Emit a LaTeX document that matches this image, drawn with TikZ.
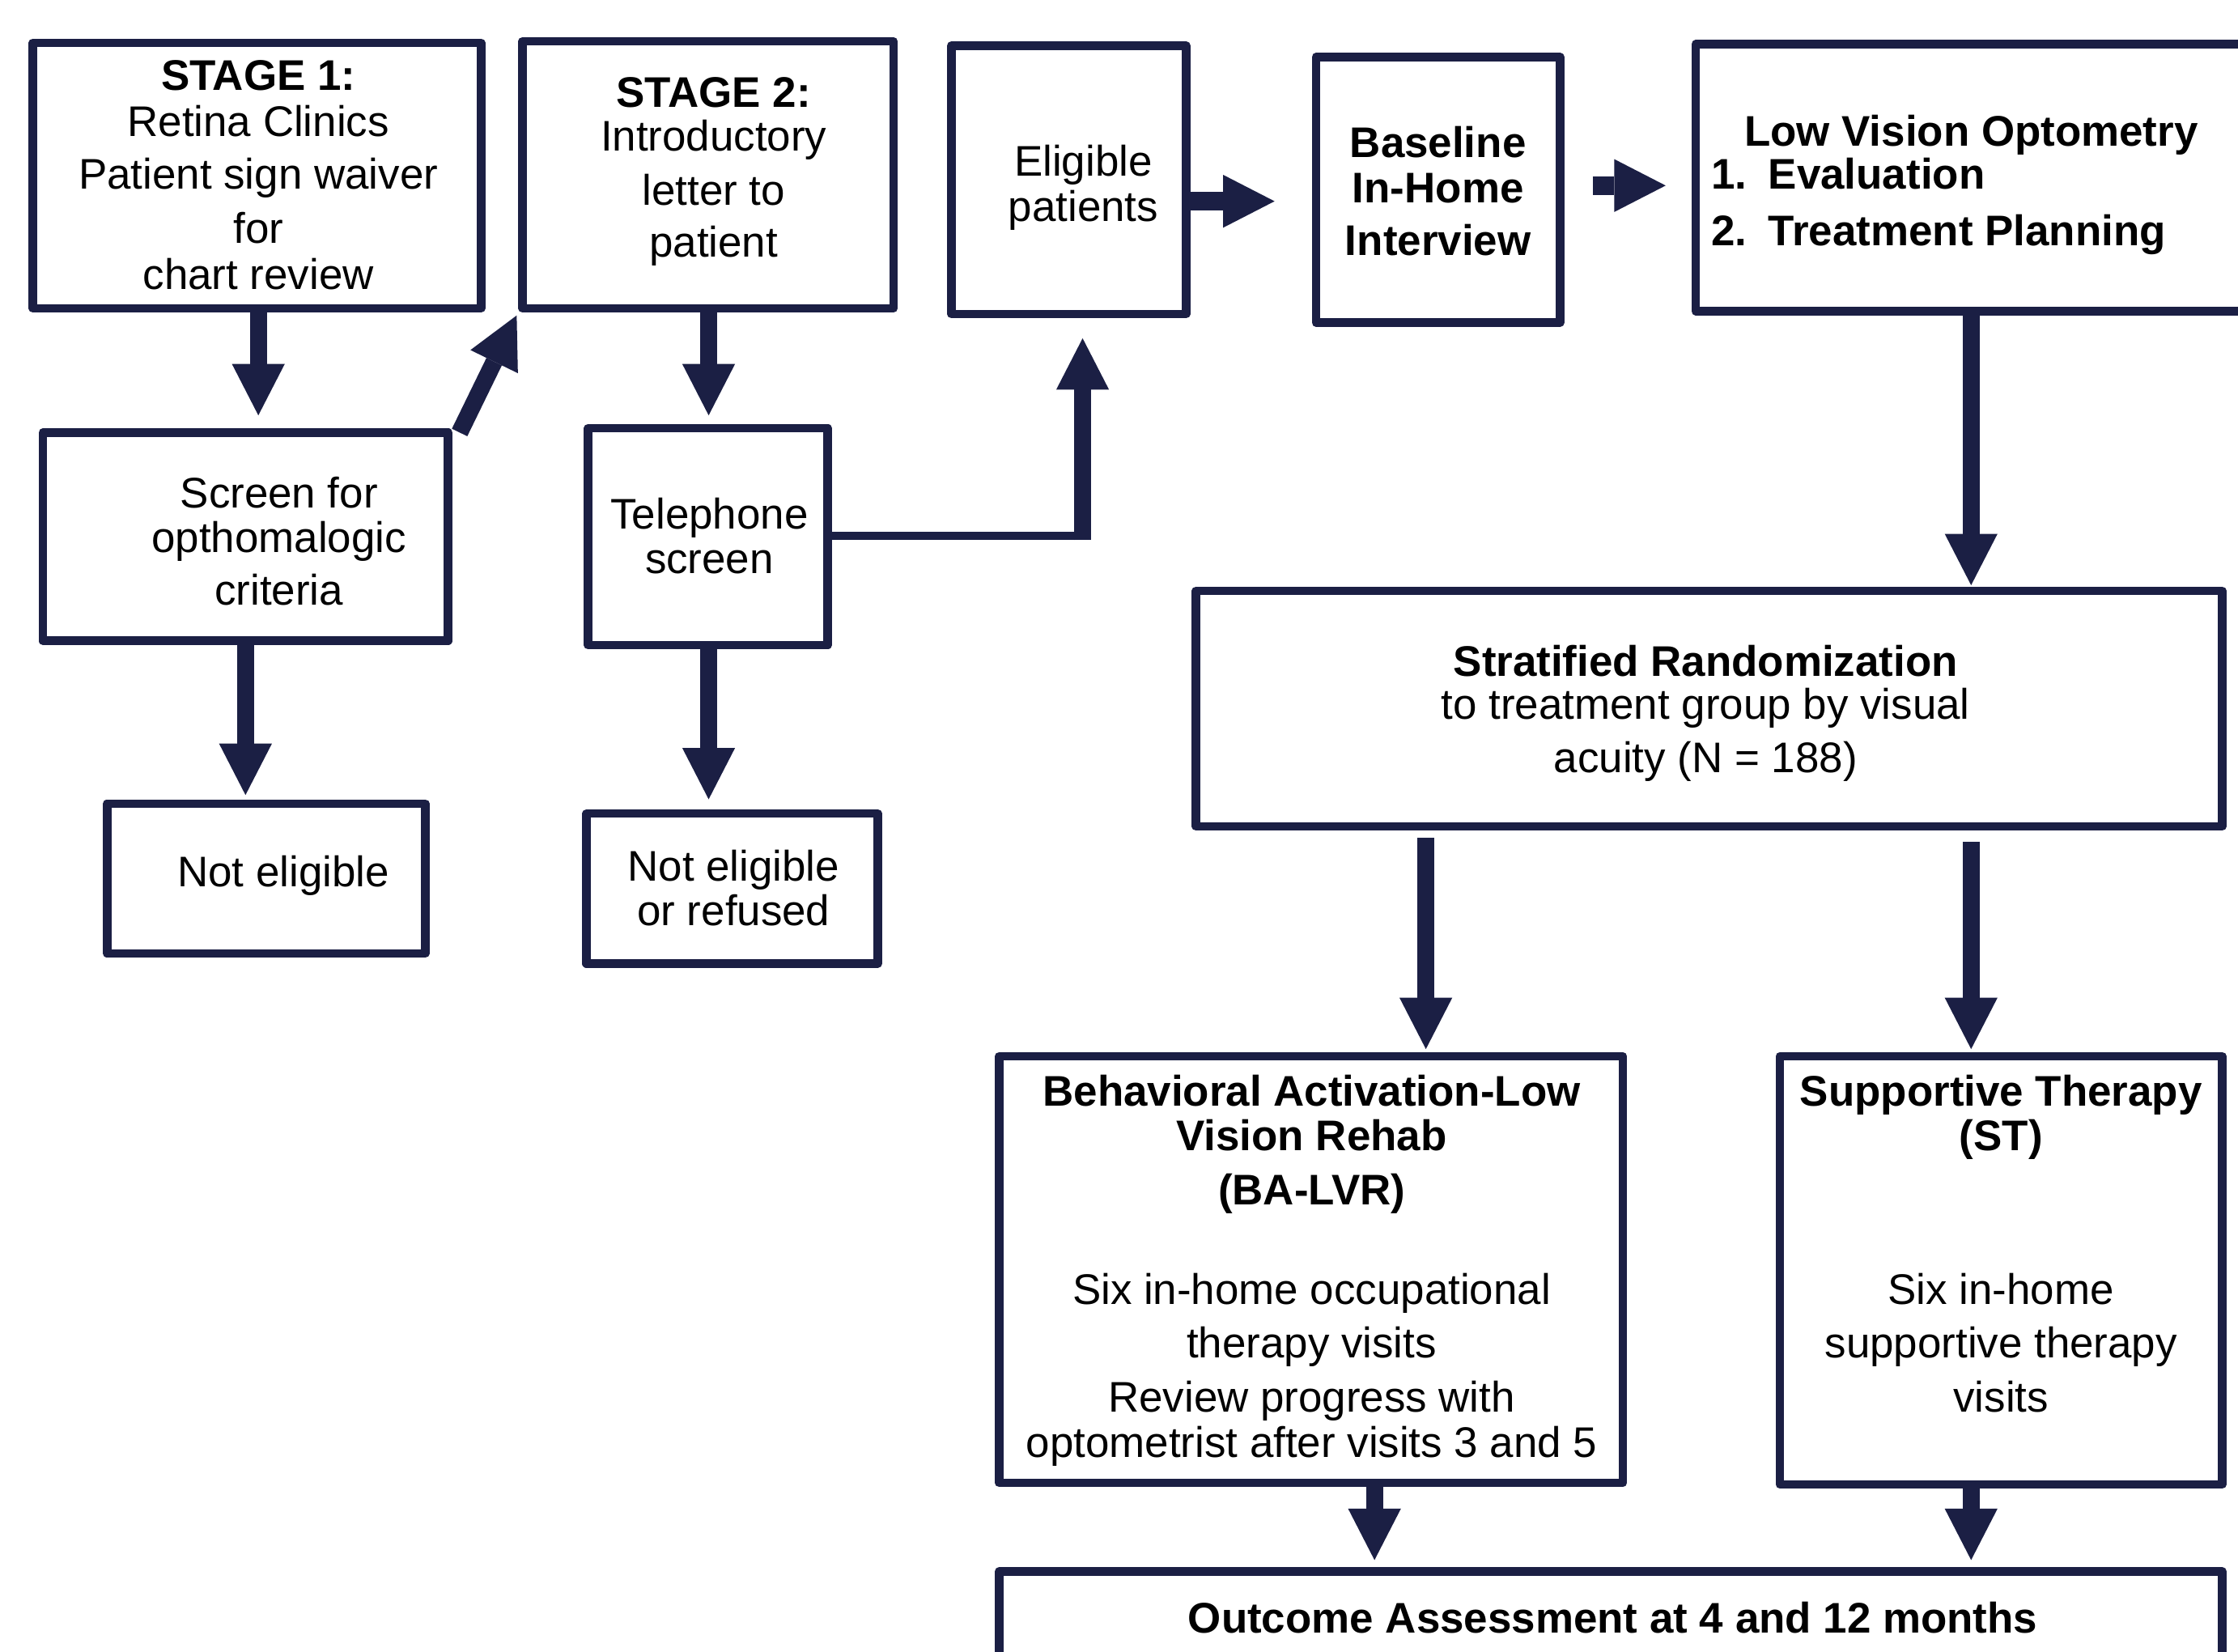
\documentclass[tikz,border=0pt]{standalone}
\usepackage{fontspec}
\setmainfont{Liberation Sans}
\usetikzlibrary{arrows.meta,calc}
\definecolor{navy}{RGB}{27,31,68}
\begin{document}
\begin{tikzpicture}[x=1pt,y=-1pt,
  box/.style={draw=navy,line width=6pt,fill=white,inner sep=0pt,outer sep=0pt,line join=round,rectangle},
  txt/.style={anchor=base,inner sep=0pt,outer sep=0pt,font=\fontsize{30}{36}\selectfont},
  btxt/.style={anchor=base,inner sep=0pt,outer sep=0pt,font=\fontsize{30}{36}\selectfont\bfseries},
  arr/.style={draw=navy,line width=12pt,-{Triangle[width=37pt,length=36pt,line width=0pt]}},
  conn/.style={draw=navy,line width=6pt}]
\useasboundingbox (0,0) rectangle (1568,1157);
\clip (0,0) rectangle (1568,1157);

% ---------- boxes ----------
\node[box,minimum width=314pt,minimum height=186pt] (s1) at (180,123) {};
\node[box,minimum width=260pt,minimum height=187pt] (s2) at (496,122.5) {};
\node[box,minimum width=164.5pt,minimum height=188pt] (elig) at (748.75,126) {};
\node[box,minimum width=171pt,minimum height=186pt] (base) at (1007.5,133) {};
\node[box,minimum width=512pt,minimum height=187pt] (lvo) at (1444,124.5) {};
\node[box,minimum width=284pt,minimum height=146pt] (scr) at (172,376) {};
\node[box,minimum width=168pt,minimum height=152pt] (tel) at (496,376) {};
\node[box,minimum width=223pt,minimum height=105pt] (ne1) at (186.5,615.5) {};
\node[box,minimum width=204pt,minimum height=105pt] (ne2) at (513,622.5) {};
\node[box,minimum width=719pt,minimum height=165pt] (strat) at (1197.5,496.5) {};
\node[box,minimum width=437pt,minimum height=299pt] (ba) at (918.5,889.5) {};
\node[box,minimum width=310pt,minimum height=300pt] (st) at (1402,890) {};
\node[box,minimum width=857pt,minimum height=149pt] (out) at (1128.5,1175.5) {};

% ---------- texts ----------
\node[btxt] (s1a) at (181,63) {STAGE 1:};
\node[txt] (s1b) at (181,95.5) {Retina Clinics};
\node[txt] (s1c) at (181,132.5) {Patient sign waiver};
\node[txt] (s1d) at (181,170.5) {for};
\node[txt] (s1e) at (181,202.5) {chart review};

\node[btxt] (s2a) at (500,75) {STAGE 2:};
\node[txt] (s2b) at (500,106) {Introductory};
\node[txt] (s2c) at (500,144) {letter to};
\node[txt] (s2d) at (500,180) {patient};

\node[txt] (ela) at (759,123.5) {Eligible};
\node[txt] (elb) at (759,155) {patients};

\node[btxt] (bsa) at (1007.5,110.5) {Baseline};
\node[btxt] (bsb) at (1007.5,142) {In-Home};
\node[btxt] (bsc) at (1007.5,179) {Interview};

\node[btxt] (lva) at (1381,102.5) {Low Vision Optometry};
\node[btxt,anchor=base west] (lvb) at (1199,132.5) {\makebox[40pt][l]{1.}Evaluation};
\node[btxt,anchor=base west] (lvc) at (1199,172) {\makebox[40pt][l]{2.}Treatment Planning};

\node[txt] (sca) at (195.5,356) {Screen for};
\node[txt] (scb) at (195.5,387) {opthomalogic};
\node[txt] (scc) at (195.5,424) {criteria};

\node[txt] (tla) at (497,370.5) {Telephone};
\node[txt] (tlb) at (497,401.5) {screen};

\node[txt] (n1a) at (198.5,621.5) {Not eligible};

\node[txt] (n2a) at (514,617) {Not eligible};
\node[txt] (n2b) at (514,648.5) {or refused};

\node[btxt] (sra) at (1195,474) {Stratified Randomization};
\node[txt] (srb) at (1195,504) {to treatment group by visual};
\node[txt] (src) at (1195,541) {acuity (N = 188)};

\node[btxt] (baa) at (919,775) {Behavioral Activation-Low};
\node[btxt] (bab) at (919,806) {Vision Rehab};
\node[btxt] (bac) at (919,844) {(BA-LVR)};
\node[txt] (bad) at (919,914) {Six in-home occupational};
\node[txt] (bae) at (919,951) {therapy visits};
\node[txt] (baf) at (919,989) {Review progress with};
\node[txt] (bag) at (919,1021) {optometrist after visits 3 and 5};

\node[btxt] (sta) at (1402,775) {Supportive Therapy};
\node[btxt] (stb) at (1402,806) {(ST)};
\node[txt] (stc) at (1402,914) {Six in-home};
\node[txt] (std) at (1402,951) {supportive therapy};
\node[txt] (ste) at (1402,989) {visits};

\node[btxt] (oua) at (1130,1144) {Outcome Assessment at 4 and 12 months};

% ---------- connector coordinates ----------
\coordinate (t1) at (181,291);
\coordinate (t2) at (496.5,291);
\coordinate (t4) at (172,557);
\coordinate (t5) at (496.5,560);
\coordinate (bend) at (758.5,375.5);
\coordinate (t6) at (758.5,237);
\coordinate (t7) at (893,141);
\coordinate (f8) at (1116,130);
\coordinate (t8) at (1167,130);
\coordinate (t9) at (1381,410);
\coordinate (f10) at (999,587);
\coordinate (t10) at (999,735);
\coordinate (f11) at (1381,590);
\coordinate (t11) at (1381,735);
\coordinate (t12) at (963,1093);
\coordinate (t13) at (1381,1093);

% ---------- connectors ----------
\draw[arr] (s1.south -| t1) -- (t1);
\draw[arr] (s2.south -| t2) -- (t2);
\draw[arr] ($(scr.north east)+(8,0)$) -- ($(s2.south west)+(-4,5)$);
\draw[arr] (scr.south -| t4) -- (t4);
\draw[arr] (tel.south -| t5) -- (t5);
\draw[conn] (tel.east |- bend) -- ($(bend)+(6,0)$);
\draw[arr] ($(bend)+(0,3)$) -- (t6);
\draw[arr,line width=13pt] (elig.east |- t7) -- (t7);
\draw[arr,line width=13pt] (f8) -- (t8);
\draw[arr] (lvo.south -| t9) -- (t9);
\draw[arr] (f10) -- (t10);
\draw[arr] (f11) -- (t11);
\draw[arr] (ba.south -| t12) -- (t12);
\draw[arr] (st.south -| t13) -- (t13);
\end{tikzpicture}
\end{document}
